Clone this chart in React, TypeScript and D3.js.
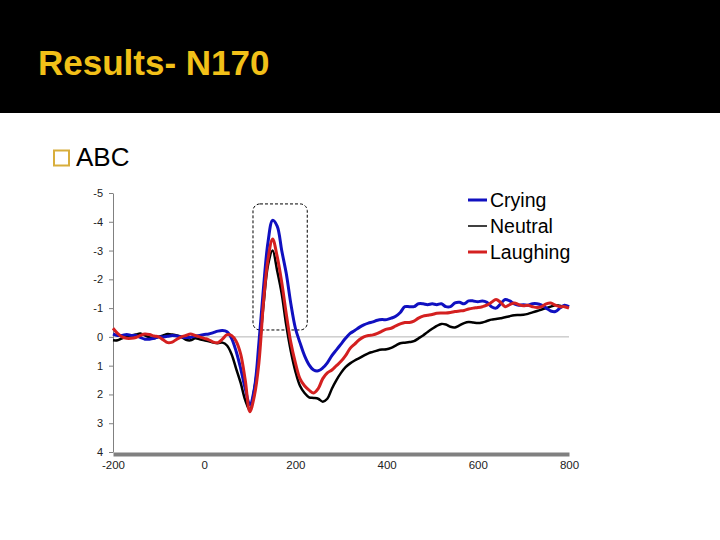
import { useEffect, useRef } from "react";
import * as d3 from "d3";

// time points (ms), every 10 ms from -200 to 800
const times = d3.range(-200, 801, 10);

const crying = [
    -0.1, -0.05, -0.05, -0.08, -0.05, -0.05, 0.02, 0.08, 0.08, 0.05,
    0.0, 0.0, -0.02, -0.05, -0.03, 0.0, 0.02, 0.02, -0.03, -0.05,
    -0.08, -0.1, -0.15, -0.2, -0.22, -0.18, 0.05, 0.5, 1.1, 1.8,
    2.35, 1.8, 0.2, -1.7, -3.3, -4.05, -3.85, -3.0, -2.2, -1.15,
    -0.3, 0.2, 0.65, 0.97, 1.15, 1.18, 1.08, 0.9, 0.65, 0.45,
    0.25, 0.05, -0.12, -0.22, -0.33, -0.42, -0.48, -0.52, -0.58, -0.6,
    -0.6, -0.65, -0.72, -0.85, -1.05, -1.05, -1.05, -1.15, -1.15, -1.12,
    -1.15, -1.12, -1.15, -1.05, -1.05, -1.18, -1.2, -1.15, -1.25, -1.25,
    -1.22, -1.25, -1.2, -1.05, -1.0, -1.15, -1.3, -1.25, -1.15, -1.1,
    -1.12, -1.1, -1.15, -1.15, -1.1, -1.0, -0.9, -0.88, -1.0, -1.1,
    -1.05,
];

const neutral = [
    0.12, 0.12, 0.05, 0.0, -0.05, -0.08, -0.12, -0.05, 0.02, 0.05,
    0.0, -0.05, -0.1, -0.08, -0.05, 0.0, 0.1, 0.12, 0.05, 0.08,
    0.12, 0.15, 0.2, 0.22, 0.2, 0.3, 0.6, 1.1, 1.6, 2.2,
    2.55, 1.8, 0.6, -1.1, -2.5, -3.0, -2.3, -1.5, -0.4, 0.5,
    1.2, 1.7, 1.95, 2.1, 2.12, 2.15, 2.25, 2.15, 1.8, 1.5,
    1.25, 1.05, 0.92, 0.82, 0.74, 0.65, 0.57, 0.52, 0.47, 0.44,
    0.43, 0.38, 0.3, 0.22, 0.2, 0.18, 0.15, 0.05, -0.05, -0.17,
    -0.28, -0.38, -0.45, -0.43, -0.35, -0.33, -0.4, -0.48, -0.52, -0.5,
    -0.48, -0.5, -0.55, -0.6, -0.62, -0.65, -0.68, -0.72, -0.75, -0.76,
    -0.77, -0.8, -0.85, -0.9, -0.95, -1.0, -1.05, -1.1, -1.08, -1.05,
    -1.05,
];

const laughing = [
    -0.3, -0.12, 0.0, 0.05, 0.05, 0.02, -0.05, -0.1, -0.08, -0.03,
    0.0, 0.1, 0.2, 0.18, 0.08, 0.0, -0.05, -0.1, -0.05, 0.0,
    0.05, 0.1, 0.18, 0.2, 0.08, -0.08, -0.05, 0.15, 0.6, 1.5,
    2.6, 2.05, 0.9, -1.2, -2.7, -3.4, -2.8, -1.9, -0.8, 0.2,
    0.9, 1.45, 1.7, 1.85, 1.95, 1.8, 1.45, 1.25, 1.15, 1.0,
    0.85, 0.65, 0.4, 0.25, 0.1, 0.0, -0.05, -0.07, -0.12, -0.2,
    -0.27, -0.3, -0.38, -0.45, -0.5, -0.5, -0.55, -0.65, -0.72, -0.75,
    -0.78, -0.82, -0.83, -0.83, -0.85, -0.88, -0.9, -0.92, -0.97, -1.0,
    -1.02, -1.05, -1.1, -1.2, -1.3, -1.2, -1.05, -1.12, -1.18, -1.12,
    -1.08, -1.1, -1.05, -1.02, -1.05, -1.15, -1.18, -1.1, -1.05, -1.05,
    -1.0,
];

const xTicks = [-200, 0, 200, 400, 600, 800];
const yTicks = [-5, -4, -3, -2, -1, 0, 1, 2, 3, 4];

// N170 window marked with the dashed box
const boxTime = [107, 226];
const boxVolt = [-4.62, -0.24];

const series = [
    { name: "Neutral", values: neutral, color: "#000000", width: 2.5, legendWidth: 1.5 },
    { name: "Crying", values: crying, color: "#1010c0", width: 3, legendWidth: 3 },
    { name: "Laughing", values: laughing, color: "#d42020", width: 3, legendWidth: 3 },
];
const legendOrder = ["Crying", "Neutral", "Laughing"];

const FONT = "'Liberation Sans', Arial, sans-serif";

export default function App() {
    const svgRef = useRef<SVGSVGElement | null>(null);

    useEffect(() => {
        if (!svgRef.current) return;
        const svg = d3.select(svgRef.current);
        svg.selectAll("*").remove();

        const width = 720;
        const height = 540;

        // slide background + header
        svg.append("rect").attr("width", width).attr("height", height).attr("fill", "#ffffff");
        svg.append("rect").attr("width", width).attr("height", 113).attr("fill", "#000000");

        svg.append("text")
            .attr("x", 38)
            .attr("y", 75)
            .attr("font-family", FONT)
            .attr("font-weight", "bold")
            .attr("font-size", "35px")
            .attr("fill", "#f2c018")
            .text("Results- N170");

        // bullet
        svg.append("rect")
            .attr("x", 54)
            .attr("y", 150.5)
            .attr("width", 15)
            .attr("height", 15)
            .attr("fill", "none")
            .attr("stroke", "#d8ae3c")
            .attr("stroke-width", 2);

        svg.append("text")
            .attr("x", 76)
            .attr("y", 166)
            .attr("font-family", FONT)
            .attr("font-size", "26px")
            .attr("fill", "#000000")
            .text("ABC");

        // scales (voltage axis inverted: negative up)
        const x = d3.scaleLinear().domain([-200, 800]).range([113, 569]);
        const y = d3.scaleLinear().domain([-5, 4]).range([193, 452]);

        // zero line
        svg.append("line")
            .attr("x1", x(-200))
            .attr("x2", x(800))
            .attr("y1", y(0))
            .attr("y2", y(0))
            .attr("stroke", "#b4b4b4")
            .attr("stroke-width", 1);

        // y axis
        const yAxis = svg
            .append("g")
            .attr("transform", `translate(${x(-200)},0)`)
            .call(
                d3.axisLeft(y)
                    .tickValues(yTicks)
                    .tickSize(4)
                    .tickSizeOuter(0)
                    .tickPadding(6)
                    .tickFormat((d) => String(d))
            );
        yAxis.select(".domain").attr("stroke", "#808080");
        yAxis.selectAll(".tick line").attr("stroke", "#808080");
        yAxis.selectAll(".tick text")
            .attr("fill", "#222222")
            .attr("font-family", FONT)
            .attr("font-size", "11px");

        // x axis: thick gray bar at the bottom
        const xAxis = svg
            .append("g")
            .attr("transform", `translate(0,${y(4) + 2})`)
            .call(
                d3.axisBottom(x)
                    .tickValues(xTicks)
                    .tickSize(0)
                    .tickSizeOuter(0)
                    .tickPadding(7)
                    .tickFormat((d) => String(d))
            );
        xAxis.select(".domain").attr("stroke", "#808080").attr("stroke-width", 4);
        xAxis.selectAll(".tick text")
            .attr("fill", "#222222")
            .attr("font-family", FONT)
            .attr("font-size", "11.5px");

        // dashed box around N170 peak
        svg.append("rect")
            .attr("x", x(boxTime[0]))
            .attr("y", y(boxVolt[0]))
            .attr("width", x(boxTime[1]) - x(boxTime[0]))
            .attr("height", y(boxVolt[1]) - y(boxVolt[0]))
            .attr("rx", 7)
            .attr("fill", "none")
            .attr("stroke", "#000000")
            .attr("stroke-width", 1)
            .attr("stroke-dasharray", "3,2");

        // waveforms
        const line = d3
            .line<number>()
            .x((_, i) => x(times[i]))
            .y((d) => y(d))
            .curve(d3.curveCatmullRom.alpha(0.5));

        series.forEach((s) => {
            svg.append("path")
                .attr("d", line(s.values) as string)
                .attr("fill", "none")
                .attr("stroke", s.color)
                .attr("stroke-width", s.width)
                .attr("stroke-linejoin", "round");
        });

        // legend
        const legend = svg
            .selectAll(".legend")
            .data(legendOrder.map((n) => series.find((s) => s.name === n)!))
            .enter()
            .append("g")
            .attr("class", "legend")
            .attr("transform", (d, i) => `translate(468, ${200 + i * 26})`);

        legend.append("line")
            .attr("x1", 0)
            .attr("x2", 19)
            .attr("stroke", (d) => d.color)
            .attr("stroke-width", (d) => d.legendWidth);

        legend.append("text")
            .attr("x", 22)
            .attr("dy", "0.36em")
            .attr("font-family", FONT)
            .attr("font-size", "19.5px")
            .attr("fill", "#000000")
            .text((d) => d.name);
    }, []);

    return (
        <svg
            ref={svgRef}
            width={720}
            height={540}
            style={{ position: "absolute", left: 0, top: 0, display: "block" }}
        />
    );
}
